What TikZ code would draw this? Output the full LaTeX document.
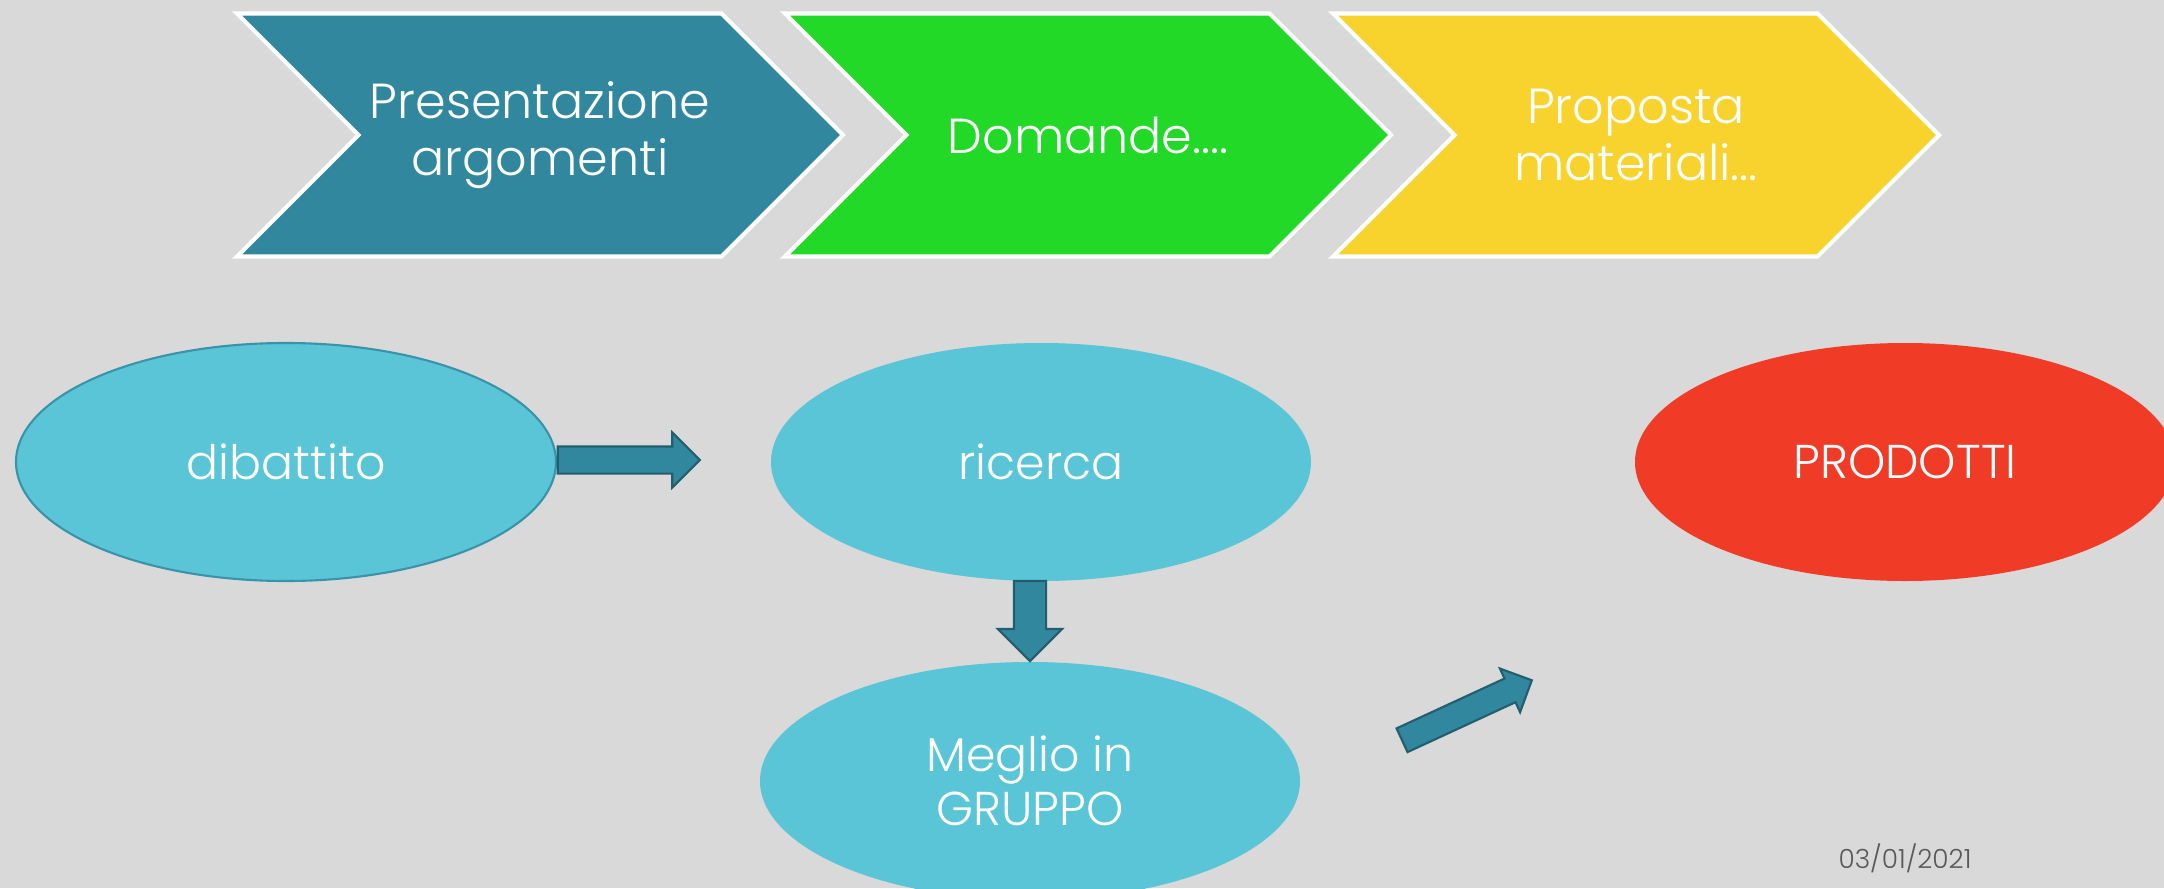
\documentclass[tikz,border=0pt]{standalone}
\usepackage{fontspec}
\setmainfont{Poppins}[UprightFont=* Light]
\usetikzlibrary{shapes.geometric,shapes.symbols,shapes.arrows}
\definecolor{backgray}{HTML}{D9D9D9}
\definecolor{chevteal}{HTML}{31879E}
\definecolor{chevgreen}{HTML}{22D928}
\definecolor{chevyellow}{HTML}{F8D32E}
\definecolor{bubbleblue}{HTML}{59C5D6}
\definecolor{prodred}{HTML}{F03B27}
\definecolor{arrowline}{HTML}{225E6E}
\definecolor{dategray}{HTML}{595959}
\tikzset{chevron/.style = {shape=signal, signal from=west, signal to=east, signal pointer angle=90, draw=white, line width=1.2pt, minimum width=6.06cm, minimum height=2.43cm, inner sep=0pt, text=white, align=center, font=\fontsize{14}{16}\selectfont}}
\tikzset{bubble/.style = {shape=ellipse, fill=bubbleblue, minimum width=5.40cm, minimum height=2.38cm, inner sep=0pt, text=white, align=center, font=\fontsize{13.5}{15.5}\selectfont}}
\tikzset{blockarrow/.style = {shape=single arrow, fill=chevteal, draw=arrowline, line width=0.6pt, inner xsep=0pt}}

\begin{document}
\begin{tikzpicture}
\useasboundingbox (0,0) rectangle (21.64,8.88);
\clip (0,0) rectangle (21.64,8.88);
\fill[backgray] (0,0) rectangle (21.64,8.88);
% chevrons
\node[chevron, fill=chevteal] (pres) at (5.40,7.53) {Presentazione\\argomenti};
\node[chevron, fill=chevgreen] (dom) at (10.88,7.53) {Domande....};
\node[chevron, fill=chevyellow] (prop) at (16.36,7.53) {Proposta\\materiali...};
% bubbles
\node[bubble, draw=chevteal!80!bubbleblue, line width=0.6pt] (dib) at (2.86,4.26) {dibattito};
\node[bubble] (ric) at (10.41,4.26) {ricerca};
\node[bubble] (gruppo) at (10.30,1.07) {Meglio in\\GRUPPO};
\node[bubble, fill=prodred] (prod) at (19.05,4.26) {PRODOTTI};
% arrows
\node[blockarrow, minimum height=1.42cm, inner ysep=0.125cm, single arrow head extend=0.14cm] (a1) at (6.22,4.28) {};
\node[blockarrow, minimum height=0.80cm, inner ysep=0.15cm, single arrow head extend=0.16cm, rotate=-90] (a2) at (10.30,2.75) {};
\node[blockarrow, minimum height=1.43cm, inner ysep=0.12cm, single arrow head extend=0.11cm, rotate=24.8] (a3) at (14.61,1.75) {};
% date
\node[text=dategray, font=\fontsize{7.5}{9}\selectfont] (date) at (19.05,0.30) {03/01/2021};
\end{tikzpicture}
\end{document}
